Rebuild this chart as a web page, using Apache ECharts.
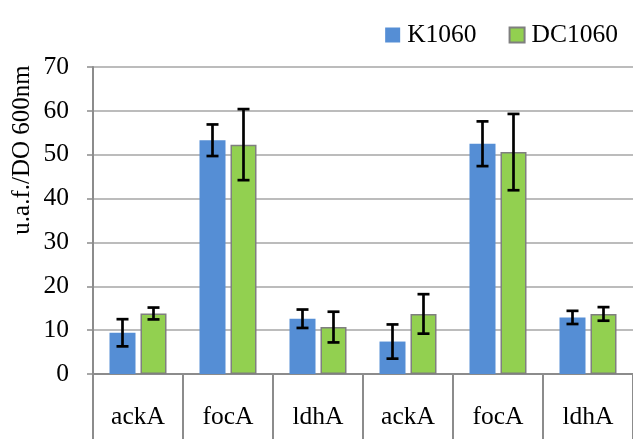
<!DOCTYPE html>
<html>
<head>
<meta charset="utf-8">
<script src="https://cdn.jsdelivr.net/npm/echarts@6/dist/echarts.min.js"></script>
<style>html,body{margin:0;padding:0;background:#fff}#c{width:633px;height:439px}</style>
</head>
<body>
<div id="c"></div>
<script>
var categories = ['ackA', 'focA', 'ldhA', 'ackA', 'focA', 'ldhA'];
var kValues = [9.4, 53.3, 12.6, 7.4, 52.5, 12.9];
var kErr = [3.1, 3.6, 2.1, 3.9, 5.1, 1.5];
var dcValues = [13.8, 52.3, 10.7, 13.7, 50.6, 13.7];
var dcErr = [1.35, 8.1, 3.5, 4.5, 8.7, 1.55];
var yTicks = [0, 10, 20, 30, 40, 50, 60, 70];
var seriesNames = ['K1060', 'DC1060'];
var yName = 'u.a.f./DO 600nm';

var FONT = '"Liberation Serif", "DejaVu Serif", serif';
var BAR_W = 26, BAR_GAP = 5;

function errSeries(values, errs, side) {
  var data = values.map(function (v, i) { return [i, v - errs[i], v + errs[i]]; });
  return {
    type: 'custom',
    z: 10,
    silent: true,
    data: data,
    encode: { x: 0, y: [1, 2] },
    renderItem: function (params, api) {
      var i = api.value(0);
      var lo = api.coord([i, api.value(1)]);
      var hi = api.coord([i, api.value(2)]);
      var x = lo[0] + side * (BAR_W / 2 + BAR_GAP / 2);
      var cap = 6;
      var st = { stroke: '#000', lineWidth: 2.7 };
      return {
        type: 'group',
        children: [
          { type: 'line', shape: { x1: x, y1: lo[1], x2: x, y2: hi[1] }, style: st },
          { type: 'line', shape: { x1: x - cap, y1: lo[1], x2: x + cap, y2: lo[1] }, style: st },
          { type: 'line', shape: { x1: x - cap, y1: hi[1], x2: x + cap, y2: hi[1] }, style: st }
        ]
      };
    }
  };
}

var chart = echarts.init(document.getElementById('c'), null, { renderer: 'canvas' });
chart.setOption({
  animation: false,
  backgroundColor: '#fff',
  textStyle: { fontFamily: FONT, color: '#000' },
  legend: {
    data: [
      { name: seriesNames[0], icon: 'rect' },
      { name: seriesNames[1], icon: 'rect' }
    ],
    right: 10,
    top: 16,
    itemWidth: 15,
    itemHeight: 15,
    itemGap: 32,
    textStyle: { fontFamily: FONT, fontSize: 25.5, color: '#000', lineHeight: 28, padding: [0, 0, 0, 2] }
  },
  graphic: [{
    type: 'text',
    x: 22,
    y: 150,
    rotation: Math.PI / 2,
    style: { text: yName, font: '25px ' + FONT, fill: '#000', textAlign: 'center', textVerticalAlign: 'middle' }
  }],
  grid: { left: 93, top: 67, width: 546, height: 307, containLabel: false },
  xAxis: {
    type: 'category',
    data: categories,
    axisLine: { lineStyle: { color: '#8c8c8c', width: 2 } },
    axisTick: { show: true, length: 70, lineStyle: { color: '#8c8c8c', width: 2 }, alignWithLabel: false },
    axisLabel: { fontFamily: FONT, fontSize: 25.5, color: '#000', margin: 30 },
    splitLine: { show: false }
  },
  yAxis: {
    type: 'value',
    min: yTicks[0],
    max: yTicks[yTicks.length - 1],
    interval: 10,
    axisLine: { show: true, lineStyle: { color: '#8c8c8c', width: 2 } },
    axisTick: { show: true, length: 6, lineStyle: { color: '#8c8c8c', width: 1.5 } },
    axisLabel: { fontFamily: FONT, fontSize: 25.5, color: '#000', margin: 24 },
    splitLine: { show: true, lineStyle: { color: '#a6a6a6', width: 1.5 } }
  },
  series: [
    {
      name: seriesNames[0],
      type: 'bar',
      data: kValues,
      barWidth: BAR_W,
      barGap: (BAR_GAP / BAR_W * 100) + '%',
      itemStyle: { color: '#558ED5' }
    },
    {
      name: seriesNames[1],
      type: 'bar',
      data: dcValues,
      barWidth: BAR_W,
      itemStyle: { color: '#92D050', borderColor: '#7f7f7f', borderWidth: 1.5 }
    },
    errSeries(kValues, kErr, -1),
    errSeries(dcValues, dcErr, 1)
  ]
});
</script>
</body>
</html>
